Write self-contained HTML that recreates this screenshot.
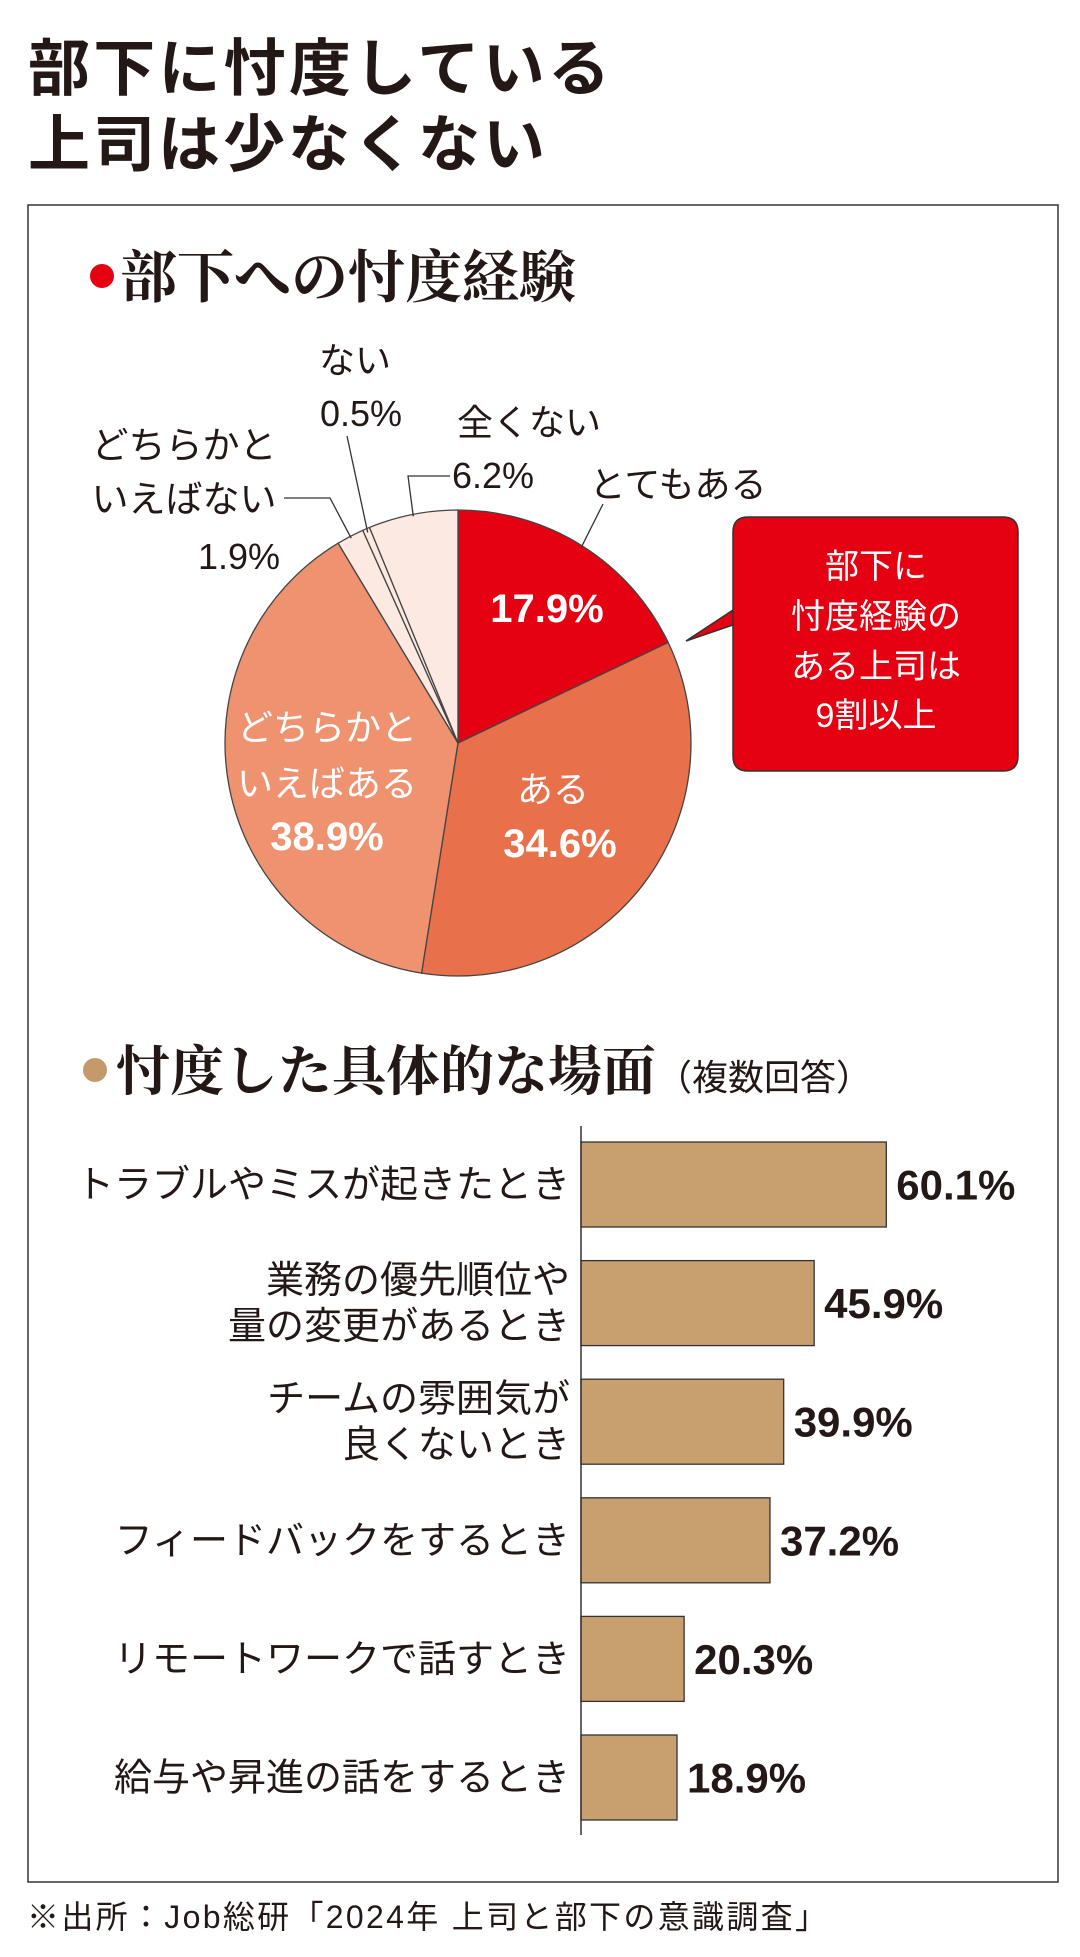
<!DOCTYPE html>
<html><head><meta charset="utf-8"><style>
body{margin:0;background:#fff;}
#wrap{position:relative;width:1080px;height:1957px;overflow:hidden;background:#fff;font-family:"Liberation Sans","Noto Sans CJK JP",sans-serif;}
svg text{font-family:"Liberation Sans","Noto Sans CJK JP",sans-serif;}
.serif{font-family:"Liberation Serif","Noto Serif CJK SC",serif;}
</style></head><body>
<div id="wrap">
<svg id="chart" width="1080" height="1957" viewBox="0 0 1080 1957">
  <text x="28" y="90" font-size="62" font-weight="bold" fill="#231815" textLength="582">部下に忖度している</text>
  <text x="28" y="166" font-size="62" font-weight="bold" fill="#231815" textLength="517">上司は少なくない</text>
  <rect x="28" y="205" width="1030" height="1677" fill="none" stroke="#333" stroke-width="1.5"/>
  <circle cx="102" cy="276" r="12" fill="#e50012"/>
  <text class="serif" x="120" y="297" font-size="57" font-weight="bold" fill="#231815">部下への忖度経験</text>
  <g id="pie"></g>
  <g id="pielabels"></g>
  <g>
    <path d="M748 517 H1003 Q1018 517 1018 532 V756 Q1018 771 1003 771 H748 Q733 771 733 756 V610 L686 641 L733 625 V532 Q733 517 748 517 Z" fill="#e50012" stroke="#333" stroke-width="1.5"/>
    <text x="876" y="578" font-size="34" fill="#fff" text-anchor="middle">部下に</text>
    <text x="876" y="628" font-size="34" fill="#fff" text-anchor="middle">忖度経験の</text>
    <text x="876" y="678" font-size="34" fill="#fff" text-anchor="middle">ある上司は</text>
    <text x="876" y="727" font-size="34" fill="#fff" text-anchor="middle">9割以上</text>
  </g>
  <circle cx="95" cy="1070" r="12" fill="#c49a6c"/>
  <text class="serif" x="116" y="1090" font-size="54" font-weight="bold" fill="#231815">忖度した具体的な場面<tspan font-size="36" font-weight="normal" font-family="Liberation Sans, Noto Sans CJK JP, sans-serif">（複数回答）</tspan></text>
  <g id="bars"></g>
  <text x="27" y="1928" font-size="32" fill="#231815" textLength="800">※出所：Job総研「2024年 上司と部下の意識調査」</text>
</svg>
</div>
<script>
const pieCategories = ["とてもある","ある","どちらかといえばある","どちらかといえばない","ない","全くない"];
const pieValues = [17.9, 34.6, 38.9, 1.9, 0.5, 6.2];
const pieColors = ["#e50012","#e8704a","#ef9270","#fce9e1","#fce9e1","#fce9e1"];
const barCategories = [["トラブルやミスが起きたとき"],["業務の優先順位や","量の変更があるとき"],["チームの雰囲気が","良くないとき"],["フィードバックをするとき"],["リモートワークで話すとき"],["給与や昇進の話をするとき"]];
const barValues = [60.1, 45.9, 39.9, 37.2, 20.3, 18.9];
const barLabels = ["60.1%","45.9%","39.9%","37.2%","20.3%","18.9%"];

const NS="http://www.w3.org/2000/svg";
function mk(tag, attrs, parent){const e=document.createElementNS(NS,tag);for(const k in attrs)e.setAttribute(k,attrs[k]);parent.appendChild(e);return e;}

const cx=458, cy=743, R=233;
const total=pieValues.reduce((a,b)=>a+b,0);
function pt(frac,r){const a=frac*2*Math.PI-Math.PI/2;return [cx+r*Math.cos(a),cy+r*Math.sin(a)];}
const pieG=document.getElementById('pie');
let acc=0;
const mids=[];
pieValues.forEach((v,i)=>{
  const s=acc/total, e=(acc+v)/total; acc+=v;
  mids.push((s+e)/2);
  const [x1,y1]=pt(s,R),[x2,y2]=pt(e,R);
  const large=(e-s)>0.5?1:0;
  const p=mk('path',{d:`M${cx} ${cy} L${x1} ${y1} A${R} ${R} 0 ${large} 1 ${x2} ${y2} Z`,fill:pieColors[i],stroke:'#444','stroke-width':1.3},pieG);
  
  
});
const L=document.getElementById('pielabels');
function txt(x,y,s,size,fill,weight,anchor,name){const t=mk('text',{x:x,y:y,'font-size':size,fill:fill,'font-weight':weight,'text-anchor':anchor},L);t.textContent=s;
  
  
  return t;}
function pct(v){return v.toFixed(1)+'%';}
txt(547,622,pct(pieValues[0]),40,'#fff','bold','middle','label-totemo-aru-value');
txt(553,802,'ある',36,'#fff','normal','middle','label-aru-name');
txt(560,857,pct(pieValues[1]),40,'#fff','bold','middle','label-aru-value');
txt(327,740,'どちらかと',36,'#fff','normal','middle','label-dochira-aru-name-1');
txt(327,796,'いえばある',36,'#fff','normal','middle','label-dochira-aru-name-2');
txt(327,850,pct(pieValues[2]),40,'#fff','bold','middle','label-dochira-aru-value');
txt(678,497,'とてもある',36,'#231815','normal','middle','label-totemo-aru-name');
txt(529,435,'全くない',36,'#231815','normal','middle','label-mattaku-name');
txt(452,488,pct(pieValues[5]),36,'#231815','normal','start','label-mattaku-value');
txt(355,373,'ない',36,'#231815','normal','middle','label-nai-name');
txt(361,426,pct(pieValues[4]),36,'#231815','normal','middle','label-nai-value');
txt(184,458,'どちらかと',37,'#231815','normal','middle','label-dochira-nai-name-1');
txt(184,512,'いえばない',37,'#231815','normal','middle','label-dochira-nai-name-2');
txt(280,569,pct(pieValues[3]),36,'#231815','normal','end','label-dochira-nai-value');
function line(pts,name){const p=mk('polyline',{points:pts.map(q=>q.join(',')).join(' '),fill:'none',stroke:'#333','stroke-width':1.3},L);
  
  }
line([[603,504],pt(mids[0],R-2)],'leader-totemo-aru');
line([[450,476],[408,476],pt(mids[5],R-2)],'leader-mattaku');
line([[347,436],pt(mids[4],R-4)],'leader-nai');
line([[284,498],[330,498],pt(mids[3],R-2)],'leader-dochira-nai');

const B=document.getElementById('bars');
const x0=581, pxPerUnit=5.08, top0=1142, step=118.6, bh=85;
function xs(v){return x0+v*pxPerUnit;}
function ys(i){return top0+i*step;}
barValues.forEach((v,i)=>{
  const r=mk('rect',{x:x0,y:ys(i),width:xs(v)-x0,height:bh,fill:'#c8a070',stroke:'#333','stroke-width':1.3},B);
  
  
  const t=mk('text',{x:xs(v)+10,y:ys(i)+bh/2+15,'font-size':42,'font-weight':'bold',fill:'#231815'},B);
  t.textContent=barLabels[i];
  
  
  const lines=barCategories[i];
  lines.forEach((s,j)=>{
    const yy=ys(i)+bh/2+13+(j-(lines.length-1)/2)*46;
    const c=mk('text',{x:570,y:yy,'font-size':38,fill:'#231815','text-anchor':'end'},B);
    c.textContent=s;
    
    
  });
});
const ax=mk('line',{x1:x0,y1:1126,x2:x0,y2:1835,stroke:'#333','stroke-width':1.5},B);


</script>
</body></html>
